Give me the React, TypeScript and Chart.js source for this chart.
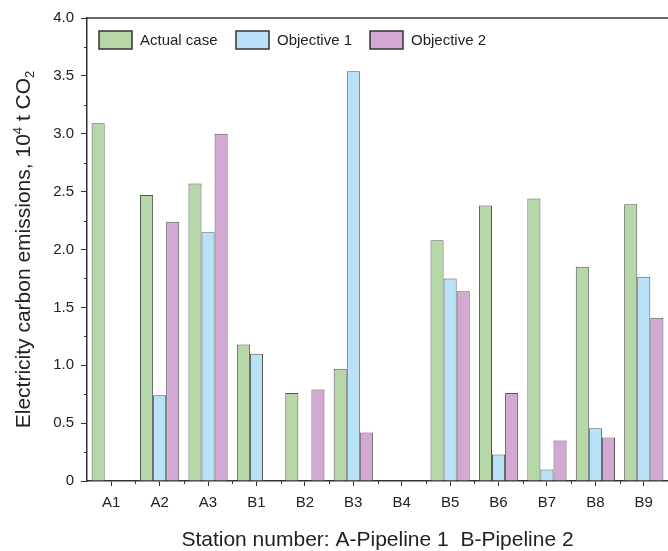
import React, { useEffect, useRef } from "react";
import { Chart, registerables } from "chart.js";

Chart.register(...registerables);

const categories = ["A1", "A2", "A3", "B1", "B2", "B3", "B4", "B5", "B6", "B7", "B8", "B9"];
const seriesNames = ["Actual case", "Objective 1", "Objective 2"];
const actualCase = [3.09, 2.47, 2.57, 1.18, 0.76, 0.97, 0, 2.08, 2.38, 2.44, 1.85, 2.39];
const objective1 = [0, 0.74, 2.15, 1.1, 0, 3.54, 0, 1.75, 0.23, 0.1, 0.455, 1.765];
const objective2 = [0, 2.24, 3.0, 0, 0.79, 0.42, 0, 1.64, 0.76, 0.35, 0.375, 1.41];
const yTickValues = [0, 0.5, 1, 1.5, 2, 2.5, 3, 3.5, 4];
const yTitleParts = ["Electricity carbon emissions, 10", "4", " t CO", "2"];
const xTitle = "Station number: A-Pipeline 1  B-Pipeline 2";

const colors = ["#b6d7a8", "#b9e1f7", "#d3a9d3"];
const FONT = "'Liberation Sans', Arial, sans-serif";

const decorPlugin = {
  id: "decor",
  afterDraw(chart: any) {
    const ctx = chart.ctx;
    const area = chart.chartArea;
    const x = chart.scales.x;
    const y = chart.scales.y;
    ctx.save();
    // top border
    ctx.strokeStyle = "#333";
    ctx.lineWidth = 1.5;
    ctx.beginPath();
    ctx.moveTo(area.left, area.top);
    ctx.lineTo(chart.width, area.top);
    ctx.stroke();
    // y minor ticks
    ctx.lineWidth = 1;
    for (let i = 0; i < yTickValues.length - 1; i++) {
      const v = (yTickValues[i] + yTickValues[i + 1]) / 2;
      const py = Math.round(y.getPixelForValue(v)) + 0.5;
      ctx.beginPath();
      ctx.moveTo(area.left - 3, py);
      ctx.lineTo(area.left, py);
      ctx.stroke();
    }
    // x minor ticks at category boundaries
    for (let i = 1; i < categories.length; i++) {
      const px = Math.round((x.getPixelForValue(i - 1) + x.getPixelForValue(i)) / 2) + 0.5;
      ctx.beginPath();
      ctx.moveTo(px, area.bottom);
      ctx.lineTo(px, area.bottom + 3);
      ctx.stroke();
    }
    // legend
    const legendX = [99, 236, 370];
    ctx.font = "15px " + FONT;
    ctx.textBaseline = "middle";
    ctx.textAlign = "left";
    for (let i = 0; i < seriesNames.length; i++) {
      ctx.fillStyle = colors[i];
      ctx.fillRect(legendX[i], 31, 33, 18);
      ctx.strokeStyle = "#333";
      ctx.lineWidth = 1.5;
      ctx.strokeRect(legendX[i], 31, 33, 18);
      ctx.fillStyle = "#222";
      ctx.fillText(seriesNames[i], legendX[i] + 41, 40.5);
    }
    // x title
    ctx.font = "21px " + FONT;
    ctx.textAlign = "center";
    ctx.fillStyle = "#222";
    ctx.fillText(xTitle, (area.left + area.right) / 2, 540);
    // y title
    const big = "21px " + FONT;
    const small = "13px " + FONT;
    ctx.save();
    ctx.translate(22, (area.top + area.bottom) / 2);
    ctx.rotate(-Math.PI / 2);
    ctx.textAlign = "left";
    ctx.textBaseline = "alphabetic";
    const fonts = [big, small, big, small];
    const offsets = [0, -8, 0, 4];
    let total = 0;
    const widths: number[] = [];
    for (let i = 0; i < yTitleParts.length; i++) {
      ctx.font = fonts[i];
      const w = ctx.measureText(yTitleParts[i]).width;
      widths.push(w);
      total += w;
    }
    let cx = -total / 2;
    for (let i = 0; i < yTitleParts.length; i++) {
      ctx.font = fonts[i];
      ctx.fillText(yTitleParts[i], cx, 8 + offsets[i]);
      cx += widths[i];
    }
    ctx.restore();
    ctx.restore();
  },
};

export default function App() {
  const ref = useRef<HTMLCanvasElement | null>(null);
  useEffect(() => {
    document.body.style.margin = "0";
    if (!ref.current) return;
    const chart = new Chart(ref.current, {
      type: "bar",
      data: {
        labels: categories,
        datasets: [actualCase, objective1, objective2].map((d, i) => ({
          label: seriesNames[i],
          data: d,
          backgroundColor: colors[i],
          borderColor: "#555",
          borderWidth: 1,
          borderSkipped: "bottom",
          categoryPercentage: 0.81,
          barPercentage: 1.0,
        })),
      },
      options: {
        animation: false,
        responsive: false,
        devicePixelRatio: 1,
        layout: { padding: { top: 18, left: 0, right: 0, bottom: 0 } },
        plugins: { legend: { display: false }, tooltip: { enabled: false } },
        scales: {
          x: {
            offset: true,
            grid: { display: true, drawOnChartArea: false, offset: false, tickLength: 5, tickColor: "#333", tickWidth: 1 },
            border: { color: "#333", width: 1.5 },
            ticks: { font: { size: 15, family: FONT }, color: "#222", padding: 8, maxRotation: 0 },
            afterFit: (s: any) => { s.height = 70; },
          },
          y: {
            min: 0,
            max: 4,
            grid: { display: true, drawOnChartArea: false, tickLength: 6, tickColor: "#333", tickWidth: 1 },
            border: { color: "#333", width: 1.5 },
            afterBuildTicks: (s: any) => { s.ticks = yTickValues.map((v) => ({ value: v })); },
            ticks: {
              font: { size: 15, family: FONT },
              color: "#222",
              padding: 7,
              callback: (v: any) => (Number(v) === 0 ? "0" : Number(v).toFixed(1)),
            },
            afterFit: (s: any) => { s.width = 87; },
          },
        },
      },
      plugins: [decorPlugin],
    });
    return () => chart.destroy();
  }, []);
  return (
    <div style={{ width: 668, height: 551 }}>
      <canvas ref={ref} width={668} height={551} style={{ display: "block" }} />
    </div>
  );
}
